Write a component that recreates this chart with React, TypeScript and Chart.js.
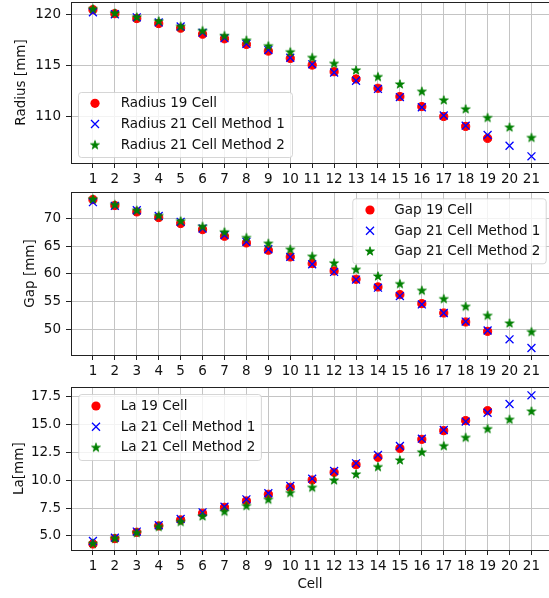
import React, { useEffect, useRef } from 'react';
import { Chart, registerables } from 'chart.js';

Chart.register(...registerables);

// ---------- data ----------
const cells = [1, 2, 3, 4, 5, 6, 7, 8, 9, 10, 11, 12, 13, 14, 15, 16, 17, 18, 19, 20, 21];

const radius19 = [120.45, 120.06, 119.58, 119.09, 118.64, 118.05, 117.6, 117.05, 116.4, 115.68, 115.03, 114.38, 113.67, 112.76, 111.95, 110.97, 110.0, 109.03, 107.86];
const radius21m1 = [120.2, 120.0, 119.7, 119.2, 118.8, 118.2, 117.66, 117.1, 116.5, 115.75, 115.1, 114.3, 113.5, 112.7, 111.9, 110.9, 110.1, 109.1, 108.2, 107.14, 106.1];
const radius21m2 = [120.55, 120.13, 119.74, 119.35, 118.83, 118.4, 117.92, 117.47, 116.92, 116.33, 115.78, 115.2, 114.55, 113.9, 113.18, 112.47, 111.62, 110.75, 109.9, 108.96, 107.95];

const gap19 = [73.43, 72.35, 71.2, 70.18, 69.1, 68.0, 66.8, 65.6, 64.28, 63.07, 61.87, 60.54, 59.04, 57.65, 56.27, 54.64, 52.95, 51.33, 49.64];
const gap21m1 = [72.95, 72.3, 71.5, 70.48, 69.4, 68.2, 67.0, 65.8, 64.46, 63.07, 61.75, 60.36, 58.98, 57.53, 56.0, 54.5, 52.95, 51.4, 49.8, 48.2, 46.63];
const gap21m2 = [73.55, 72.53, 71.5, 70.54, 69.58, 68.6, 67.6, 66.57, 65.54, 64.46, 63.2, 61.99, 60.84, 59.64, 58.25, 57.05, 55.54, 54.16, 52.53, 51.14, 49.58];

const la19 = [4.28, 4.76, 5.33, 5.9, 6.44, 7.04, 7.57, 8.14, 8.74, 9.37, 10.02, 10.71, 11.4, 12.06, 12.86, 13.67, 14.45, 15.35, 16.24];
const la21m1 = [4.55, 4.85, 5.39, 5.96, 6.53, 7.12, 7.63, 8.29, 8.83, 9.49, 10.14, 10.83, 11.52, 12.27, 13.07, 13.73, 14.51, 15.26, 16.06, 16.84, 17.62];
const la21m2 = [4.34, 4.79, 5.3, 5.84, 6.29, 6.79, 7.21, 7.72, 8.29, 8.89, 9.37, 10.02, 10.56, 11.22, 11.82, 12.54, 13.1, 13.85, 14.63, 15.47, 16.21];

const radiusLabels = ['Radius 19 Cell', 'Radius 21 Cell Method 1', 'Radius 21 Cell Method 2'];
const gapLabels = ['Gap 19 Cell', 'Gap 21 Cell Method 1', 'Gap 21 Cell Method 2'];
const laLabels = ['La 19 Cell', 'La 21 Cell Method 1', 'La 21 Cell Method 2'];

const radiusTicks = [110, 115, 120];
const gapTicks = [50, 55, 60, 65, 70];
const laTicks = [5, 7.5, 10, 12.5, 15, 17.5];

// ---------- styles ----------
const FONT = 'DejaVu Sans';
const FS = 13.5;
const TEXT = '#111111';
const GRID = '#c4c4c4';
const SPINE = '#222222';
const RED = '#ff0000';
const BLUE = '#0000ff';
const GREEN = '#008000';
const W = 549;

function makeStar(color: string) {
  const c = document.createElement('canvas');
  const s = 12;
  c.width = s;
  c.height = s;
  const ctx = c.getContext('2d')!;
  const cx = s / 2, cy = s / 2 + 0.4;
  const R = 4.7, r = R * 0.39;
  ctx.beginPath();
  for (let i = 0; i < 10; i++) {
    const a = -Math.PI / 2 + (i * Math.PI) / 5;
    const rad = i % 2 === 0 ? R : r;
    ctx.lineTo(cx + rad * Math.cos(a), cy + rad * Math.sin(a));
  }
  ctx.closePath();
  ctx.fillStyle = color;
  ctx.fill();
  ctx.strokeStyle = color;
  ctx.lineWidth = 0.8;
  ctx.stroke();
  return c;
}

type Panel = {
  top: number;
  height: number;
  padTop: number;
  xAxisH: number;
  yTitle: string;
  yTitlePad: number;
  yMin: number;
  yMax: number;
  yTicks: number[];
  decimals: number;
  s19: number[];
  m1: number[];
  m2: number[];
  labels: string[];
  legend: { x: number; y: number; w: number; h: number; mx: number; tx: number; rows: number[] };
  xTitle?: string;
};

const panels: Panel[] = [
  {
    top: 0, height: 190, padTop: 2, xAxisH: 27, yTitle: 'Radius [mm]', yTitlePad: 13.6,
    yMin: 105.45, yMax: 121.2, yTicks: radiusTicks, decimals: 0,
    s19: radius19, m1: radius21m1, m2: radius21m2, labels: radiusLabels,
    legend: { x: 78, y: 92, w: 214, h: 65, mx: 95, tx: 120.7, rows: [103.3, 124, 144.7] },
  },
  {
    top: 190, height: 190, padTop: 2, xAxisH: 25, yTitle: 'Gap [mm]', yTitlePad: 22.4,
    yMin: 45.37, yMax: 74.79, yTicks: gapTicks, decimals: 0,
    s19: gap19, m1: gap21m1, m2: gap21m2, labels: gapLabels,
    legend: { x: 352.3, y: 8.3, w: 193.4, h: 65, mx: 370, tx: 394.3, rows: [20, 40.7, 61] },
  },
  {
    top: 380, height: 218, padTop: 7.3, xAxisH: 48, yTitle: 'La[mm]', yTitlePad: 11.4,
    yMin: 3.74, yMax: 18.34, yTicks: laTicks, decimals: 1,
    s19: la19, m1: la21m1, m2: la21m2, labels: laLabels,
    legend: { x: 78.3, y: 14, w: 182.6, h: 66, mx: 96, tx: 120.7, rows: [26, 46.7, 67.3] },
    xTitle: 'Cell',
  },
];

function roundRect(ctx: CanvasRenderingContext2D, x: number, y: number, w: number, h: number, r: number) {
  ctx.beginPath();
  ctx.moveTo(x + r, y);
  ctx.lineTo(x + w - r, y);
  ctx.quadraticCurveTo(x + w, y, x + w, y + r);
  ctx.lineTo(x + w, y + h - r);
  ctx.quadraticCurveTo(x + w, y + h, x + w - r, y + h);
  ctx.lineTo(x + r, y + h);
  ctx.quadraticCurveTo(x, y + h, x, y + h - r);
  ctx.lineTo(x, y + r);
  ctx.quadraticCurveTo(x, y, x + r, y);
  ctx.closePath();
}

function PanelChart({ p }: { p: Panel }) {
  const ref = useRef<HTMLCanvasElement | null>(null);
  useEffect(() => {
    if (!ref.current) return;
    const star = makeStar(GREEN);
    const toPts = (arr: number[]) => arr.map((v, i) => ({ x: cells[i], y: v }));

    const framePlugin = {
      id: 'frame' + p.top,
      afterDraw(chart: any) {
        const { ctx, chartArea } = chart;
        ctx.save();
        ctx.strokeStyle = SPINE;
        ctx.lineWidth = 1;
        ctx.beginPath();
        const yTop = Math.round(chartArea.top) + 0.5;
        ctx.moveTo(chartArea.left, yTop);
        ctx.lineTo(chartArea.right, yTop);
        ctx.stroke();

        // legend
        const L = p.legend;
        roundRect(ctx, L.x + 0.5, L.y + 0.5, L.w, L.h, 3);
        ctx.fillStyle = 'rgba(255,255,255,0.8)';
        ctx.fill();
        ctx.strokeStyle = 'rgba(204,204,204,0.8)';
        ctx.lineWidth = 1;
        ctx.stroke();

        ctx.font = `${FS}px "${FONT}"`;
        ctx.fillStyle = TEXT;
        ctx.textBaseline = 'middle';
        ctx.textAlign = 'left';
        p.labels.forEach((lab, i) => {
          const yy = L.rows[i];
          if (i === 0) {
            ctx.beginPath();
            ctx.arc(L.mx, yy, 4.6, 0, Math.PI * 2);
            ctx.fillStyle = RED;
            ctx.fill();
          } else if (i === 1) {
            ctx.beginPath();
            const d = 4;
            ctx.moveTo(L.mx - d, yy - d);
            ctx.lineTo(L.mx + d, yy + d);
            ctx.moveTo(L.mx - d, yy + d);
            ctx.lineTo(L.mx + d, yy - d);
            ctx.strokeStyle = BLUE;
            ctx.lineWidth = 1.3;
            ctx.stroke();
          } else {
            ctx.drawImage(star, L.mx - star.width / 2, yy - star.height / 2);
          }
          ctx.fillStyle = TEXT;
          ctx.fillText(lab, L.tx, yy + 0.5);
        });
        ctx.restore();
      },
    };

    const chart = new Chart(ref.current, {
      type: 'scatter',
      data: {
        datasets: [
          {
            label: p.labels[0],
            data: toPts(p.s19),
            pointStyle: 'circle',
            pointRadius: 4.1,
            backgroundColor: RED,
            borderColor: RED,
            borderWidth: 1,
            order: 3,
          },
          {
            label: p.labels[1],
            data: toPts(p.m1),
            pointStyle: 'crossRot',
            pointRadius: 5.6,
            backgroundColor: BLUE,
            borderColor: BLUE,
            borderWidth: 1.3,
            order: 2,
          },
          {
            label: p.labels[2],
            data: toPts(p.m2),
            pointStyle: star as any,
            pointRadius: 5,
            backgroundColor: GREEN,
            borderColor: GREEN,
            order: 1,
          },
        ],
      },
      options: {
        animation: false,
        responsive: false,
        maintainAspectRatio: false,
        events: [],
        layout: { autoPadding: false, padding: { top: p.padTop, left: 0, right: 0, bottom: 0 } },
        plugins: { legend: { display: false }, tooltip: { enabled: false } },
        scales: {
          x: {
            type: 'linear',
            min: 0,
            max: 21.8,
            afterBuildTicks: (s: any) => {
              s.ticks = cells.map((v) => ({ value: v }));
            },
            afterFit: (s: any) => {
              s.height = p.xAxisH;
              s.paddingLeft = 0;
              s.paddingRight = 0;
            },
            grid: { color: GRID, tickColor: SPINE, tickLength: 5, lineWidth: 1 },
            border: { color: SPINE, width: 1 },
            ticks: {
              font: { family: FONT, size: FS },
              color: TEXT,
              padding: 3,
              maxRotation: 0,
              autoSkip: false,
              callback: (v: any) => String(v),
            },
            title: p.xTitle
              ? { display: true, text: p.xTitle, font: { family: FONT, size: FS }, color: TEXT, padding: { top: 0, bottom: 5 } }
              : { display: false },
          },
          y: {
            type: 'linear',
            min: p.yMin,
            max: p.yMax,
            afterBuildTicks: (s: any) => {
              s.ticks = p.yTicks.map((v) => ({ value: v }));
            },
            afterFit: (s: any) => {
              s.width = 71;
              s.paddingTop = 0;
              s.paddingBottom = 0;
            },
            grid: { color: GRID, tickColor: SPINE, tickLength: 5, lineWidth: 1 },
            border: { color: SPINE, width: 1 },
            ticks: {
              font: { family: FONT, size: FS },
              color: TEXT,
              padding: 5,
              autoSkip: false,
              callback: (v: any) => Number(v).toFixed(p.decimals),
            },
            title: {
              display: true,
              text: p.yTitle,
              font: { family: FONT, size: FS },
              color: TEXT,
              padding: { top: p.yTitlePad, bottom: 0 },
            },
          },
        },
      },
      plugins: [framePlugin],
    } as any);
    return () => chart.destroy();
  }, [p]);

  return (
    <canvas
      ref={ref}
      width={W}
      height={p.height}
      style={{ position: 'absolute', left: 0, top: p.top, width: W, height: p.height, display: 'block' }}
    />
  );
}

export default function App() {
  return (
    <div style={{ position: 'absolute', left: 0, top: 0, width: W, height: 598, background: '#ffffff', overflow: 'hidden' }}>
      {panels.map((p) => (
        <PanelChart key={p.top} p={p} />
      ))}
    </div>
  );
}
